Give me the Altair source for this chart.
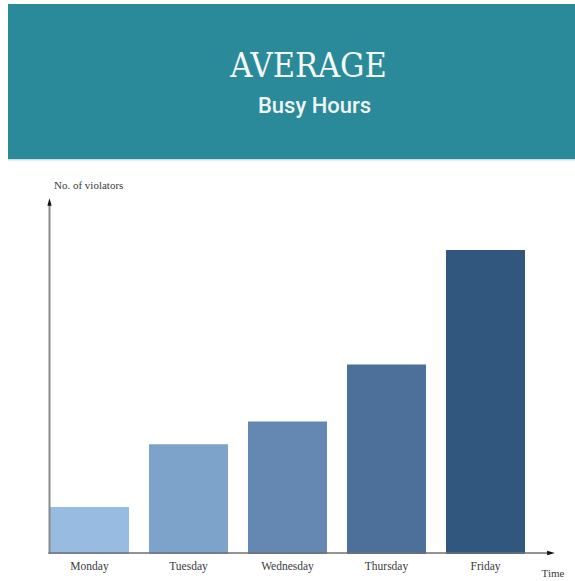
import altair as alt
import pandas as pd

# ---- data ----
days = ["Monday", "Tuesday", "Wednesday", "Thursday", "Friday"]
violators = [13.2, 30.8, 37.2, 53.2, 85.4]
bar_colors = ["#98bbe1", "#7da3cb", "#6488b1", "#4c7099", "#32577f"]
title_text = ["AVERAGE"]
subtitle_text = ["Busy Hours"]
y_label = ["No. of violators"]
x_label = ["Time"]

df = pd.DataFrame({"day": days, "value": violators, "color": bar_colors})
one = pd.DataFrame({"a": [0]})

PAD_L, PAD_T = 50, 198
W, H = 475, 356

header = alt.Chart(one).mark_rect(color="#2b8a99").encode(
    x=alt.value(8 - PAD_L), x2=alt.value(575 - PAD_L),
    y=alt.value(4 - PAD_T), y2=alt.value(159 - PAD_T),
)
header_line = alt.Chart(one).mark_rect(color="#c6e2e6").encode(
    x=alt.value(8 - PAD_L), x2=alt.value(575 - PAD_L),
    y=alt.value(159 - PAD_T), y2=alt.value(160.5 - PAD_T),
)

title = alt.Chart(pd.DataFrame({"t": title_text})).mark_text(
    font="DejaVu Serif Condensed, DejaVu Serif, serif", fontSize=34,
    color="#f4f8f8", align="center", baseline="alphabetic",
).encode(text="t:N", x=alt.value(308.5 - PAD_L), y=alt.value(77 - PAD_T))

subtitle = alt.Chart(pd.DataFrame({"t": subtitle_text})).mark_text(
    font="Roboto, sans-serif", fontSize=22, fontWeight=500,
    color="#eef5f6", align="center", baseline="alphabetic",
).encode(text="t:N", x=alt.value(314.5 - PAD_L), y=alt.value(113 - PAD_T))

bars = alt.Chart(df).mark_bar(opacity=1).encode(
    x=alt.X("day:N", sort=days, axis=None,
            scale=alt.Scale(paddingInner=0.202, paddingOuter=0)),
    y=alt.Y("value:Q", axis=None, scale=alt.Scale(domain=[0, 100])),
    color=alt.Color("color:N", scale=None, legend=None),
)

day_labels = alt.Chart(df).mark_text(
    font="Liberation Serif, serif", fontSize=11.5, color="#3a3a3a",
    baseline="middle", align="center",
).encode(x=alt.X("day:N", sort=days), text="day:N", y=alt.value(567 - PAD_T))

y_axis = alt.Chart(one).mark_rule(color="#8a8a8a", strokeWidth=2).encode(
    x=alt.value(-0.5), y=alt.value(203 - PAD_T), y2=alt.value(H)
)
x_axis = alt.Chart(one).mark_rule(color="#707070", strokeWidth=1.5).encode(
    x=alt.value(-1.5), x2=alt.value(549 - PAD_L), y=alt.value(H - 1)
)
arrow_up = alt.Chart(one).mark_point(
    shape="M0,-1L0.55,1L-0.55,1Z", filled=True, color="#111111", size=60, opacity=1
).encode(x=alt.value(-0.5), y=alt.value(202 - PAD_T))
arrow_right = alt.Chart(one).mark_point(
    shape="M1,0L-1,0.55L-1,-0.55Z", filled=True, color="#111111", size=60, opacity=1
).encode(x=alt.value(551 - PAD_L), y=alt.value(H - 1))

ylab = alt.Chart(pd.DataFrame({"t": y_label})).mark_text(
    font="Liberation Serif, serif", fontSize=11, color="#3a3a3a",
    align="left", baseline="middle",
).encode(text="t:N", x=alt.value(54 - PAD_L), y=alt.value(186 - PAD_T))

xlab = alt.Chart(pd.DataFrame({"t": x_label})).mark_text(
    font="Liberation Serif, serif", fontSize=11, color="#3a3a3a",
    align="center", baseline="middle",
).encode(text="t:N", x=alt.value(553 - PAD_L), y=alt.value(574 - PAD_T))

chart = alt.layer(
    header, header_line, title, subtitle, bars, day_labels,
    y_axis, x_axis, arrow_up, arrow_right, ylab, xlab,
).properties(
    width=W, height=H,
    autosize=alt.AutoSizeParams(type="none"),
    padding={"left": PAD_L, "top": PAD_T, "right": 575 - PAD_L - W, "bottom": 581 - PAD_T - H},
    background="white",
).configure_view(stroke=None)

chart.save("out.html", embed_options={"renderer": "svg", "actions": False})
